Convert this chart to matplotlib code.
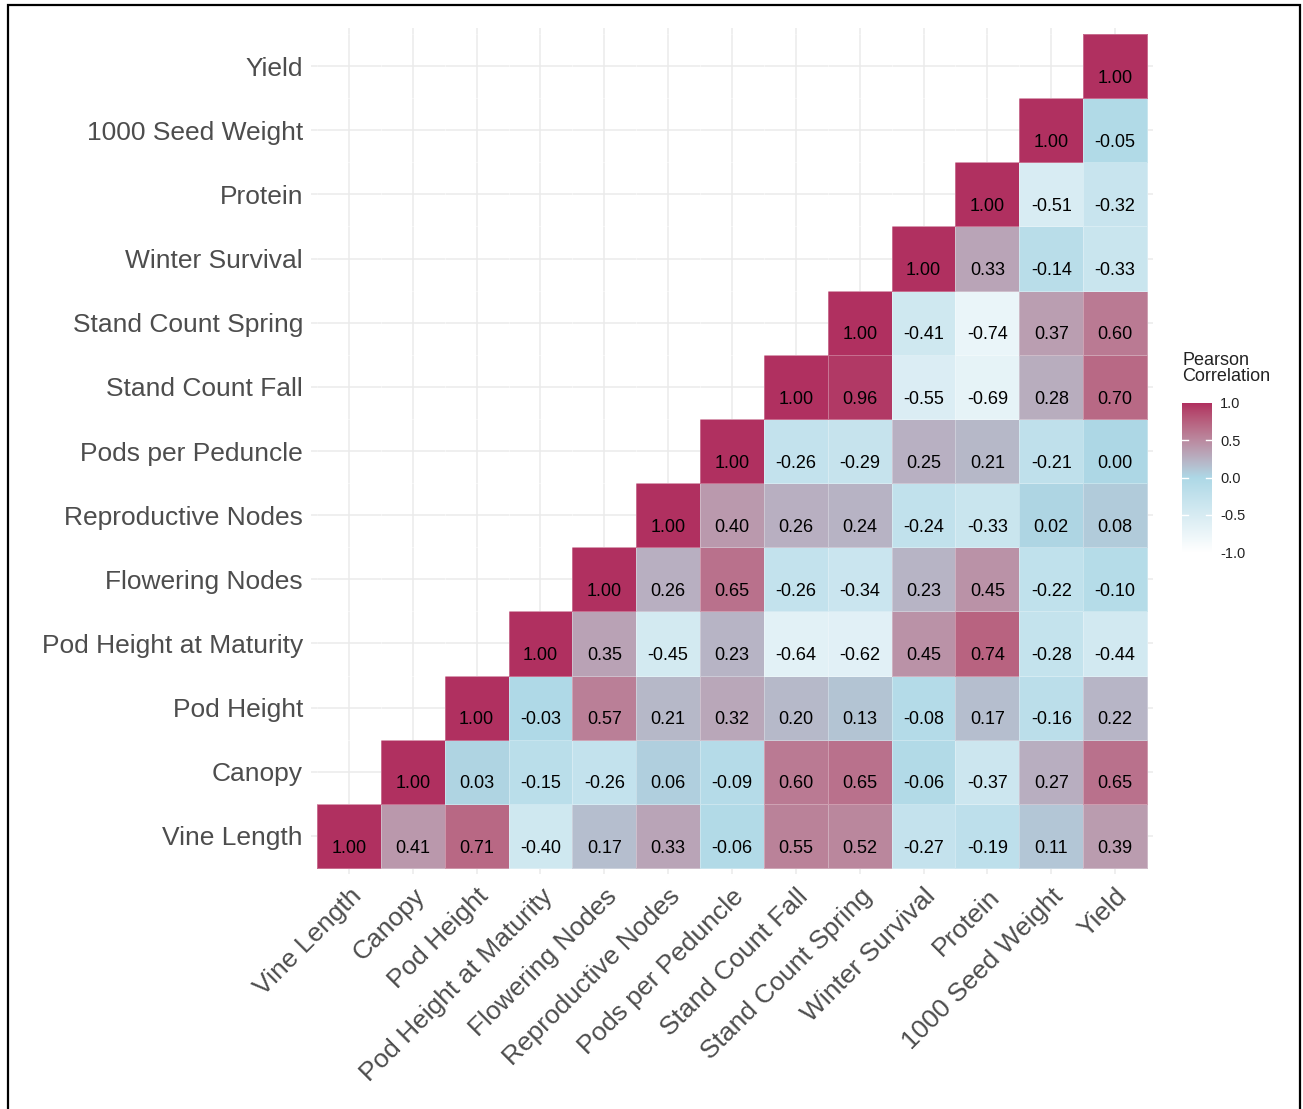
import numpy as np
import matplotlib
matplotlib.use("Agg")
import matplotlib.pyplot as plt
import matplotlib.colors as mcolors
from matplotlib.patches import Rectangle

plt.rcParams['font.family'] = ['Liberation Sans', 'DejaVu Sans']

# Trait order (x left->right, y bottom->top)
traits = ["Vine Length", "Canopy", "Pod Height", "Pod Height at Maturity",
          "Flowering Nodes", "Reproductive Nodes", "Pods per Peduncle",
          "Stand Count Fall", "Stand Count Spring", "Winter Survival",
          "Protein", "1000 Seed Weight", "Yield"]

# Upper triangle rows: row i lists correlations with traits i..12
r_vine = [1.00, 0.41, 0.71, -0.40, 0.17, 0.33, -0.06, 0.55, 0.52, -0.27, -0.19, 0.11, 0.39]
r_canopy = [1.00, 0.03, -0.15, -0.26, 0.06, -0.09, 0.60, 0.65, -0.06, -0.37, 0.27, 0.65]
r_podh = [1.00, -0.03, 0.57, 0.21, 0.32, 0.20, 0.13, -0.08, 0.17, -0.16, 0.22]
r_podhm = [1.00, 0.35, -0.45, 0.23, -0.64, -0.62, 0.45, 0.74, -0.28, -0.44]
r_flow = [1.00, 0.26, 0.65, -0.26, -0.34, 0.23, 0.45, -0.22, -0.10]
r_repro = [1.00, 0.40, 0.26, 0.24, -0.24, -0.33, 0.02, 0.08]
r_pods = [1.00, -0.26, -0.29, 0.25, 0.21, -0.21, 0.00]
r_scf = [1.00, 0.96, -0.55, -0.69, 0.28, 0.70]
r_scs = [1.00, -0.41, -0.74, 0.37, 0.60]
r_ws = [1.00, 0.33, -0.14, -0.33]
r_prot = [1.00, -0.51, -0.32]
r_tsw = [1.00, -0.05]
r_yield = [1.00]

rows = [r_vine, r_canopy, r_podh, r_podhm, r_flow, r_repro, r_pods,
        r_scf, r_scs, r_ws, r_prot, r_tsw, r_yield]

cbar_ticks = [-1.0, -0.5, 0.0, 0.5, 1.0]

n = len(traits)
mat = np.full((n, n), np.nan)
for i, vals in enumerate(rows):
    mat[i, i:] = vals


# --- colour ramp in Lab space (white -> lightblue -> maroon), like ggplot ---
M = np.array([[0.4124, 0.3576, 0.1805],
              [0.2126, 0.7152, 0.0722],
              [0.0193, 0.1192, 0.9505]])
WHITE = np.array([0.95047, 1.0, 1.08883])


def to_lab(c):
    rgb = np.array(mcolors.to_rgb(c))
    lin = np.where(rgb <= 0.04045, rgb / 12.92, ((rgb + 0.055) / 1.055) ** 2.4)
    xyz = M @ lin / WHITE
    f = np.where(xyz > (6 / 29) ** 3, np.cbrt(xyz), xyz / (3 * (6 / 29) ** 2) + 4 / 29)
    return np.array([116 * f[1] - 16, 500 * (f[0] - f[1]), 200 * (f[1] - f[2])])


def from_lab(lab):
    fy = (lab[:, 0] + 16) / 116
    f = np.stack([fy + lab[:, 1] / 500, fy, fy - lab[:, 2] / 200], -1)
    xyz = np.where(f > 6 / 29, f ** 3, 3 * (6 / 29) ** 2 * (f - 4 / 29)) * WHITE
    lin = np.clip(xyz @ np.linalg.inv(M).T, 0, None)
    rgb = np.where(lin <= 0.0031308, 12.92 * lin, 1.055 * lin ** (1 / 2.4) - 0.055)
    return np.clip(rgb, 0, 1)


lo, mid, hi = to_lab("#FFFFFF"), to_lab("#ADD8E6"), to_lab("#B03060")
t = np.linspace(0, 1, 256)[:, None]
lab = np.where(t < 0.5, lo + (mid - lo) * (t / 0.5), mid + (hi - mid) * ((t - 0.5) / 0.5))
cmap = mcolors.ListedColormap(from_lab(lab))
norm = mcolors.Normalize(vmin=-1, vmax=1)

# --- figure ---
fig = plt.figure(figsize=(13.03, 11.09), dpi=100)
ax = fig.add_axes([0.2384, 0.2115, 0.6468, 0.7636])

edges = np.arange(n + 1) - 0.5
ax.pcolormesh(edges, edges, np.ma.masked_invalid(mat), cmap=cmap, norm=norm,
              edgecolor=(1, 1, 1, 0.3), linewidth=0.5, zorder=2)

for i in range(n):
    for j in range(i, n):
        ax.text(j, i - 0.19, f"{mat[i, j]:.2f}", ha='center', va='center',
                fontsize=13, color='black', zorder=3)

ax.set_xlim(-0.6, n - 0.4)
ax.set_ylim(-0.6, n - 0.4)
ax.set_xticks(range(n))
ax.set_yticks(range(n))
ax.set_xticklabels(traits, rotation=45, ha='right', va='top',
                   rotation_mode='anchor', fontsize=19, color='#4D4D4D')
ax.set_yticklabels(traits, fontsize=19, color='#4D4D4D')
ax.tick_params(axis='y', length=0, pad=5.5)
ax.tick_params(axis='x', length=0, pad=7)
ax.grid(True, color='#EBEBEB', linewidth=1.1)
ax.set_axisbelow(True)
for s in ax.spines.values():
    s.set_visible(False)

# --- colour bar ---
cax = fig.add_axes([1182 / 1303, 1 - 552 / 1109, 30 / 1303, 149 / 1109])
grad = np.linspace(-1, 1, 256)[:, None]
cax.imshow(grad, aspect='auto', cmap=cmap, norm=norm, origin='lower',
           extent=[0, 1, -1, 1])
for v in cbar_ticks[1:-1]:
    cax.plot([0, 0.2], [v, v], color='white', lw=1)
    cax.plot([0.8, 1], [v, v], color='white', lw=1)
cax.set_xlim(0, 1)
cax.set_ylim(-1, 1)
cax.set_xticks([])
cax.yaxis.tick_right()
cax.set_yticks(cbar_ticks)
cax.set_yticklabels([f"{v:.1f}" for v in cbar_ticks], fontsize=10.5, color='#222222')
cax.tick_params(length=0, pad=6)
for s in cax.spines.values():
    s.set_visible(False)

fig.text(1182 / 1303, 1 - 352 / 1109, "Pearson\nCorrelation", ha='left', va='top',
         fontsize=13, color='#222222', linespacing=0.95)

# page frame
fig.patches.append(Rectangle((8 / 1303, -0.02), 1292 / 1303, 1.02 - 5 / 1109,
                             transform=fig.transFigure, fill=False,
                             edgecolor='black', linewidth=1.6))

fig.savefig("out.png", dpi=100)
